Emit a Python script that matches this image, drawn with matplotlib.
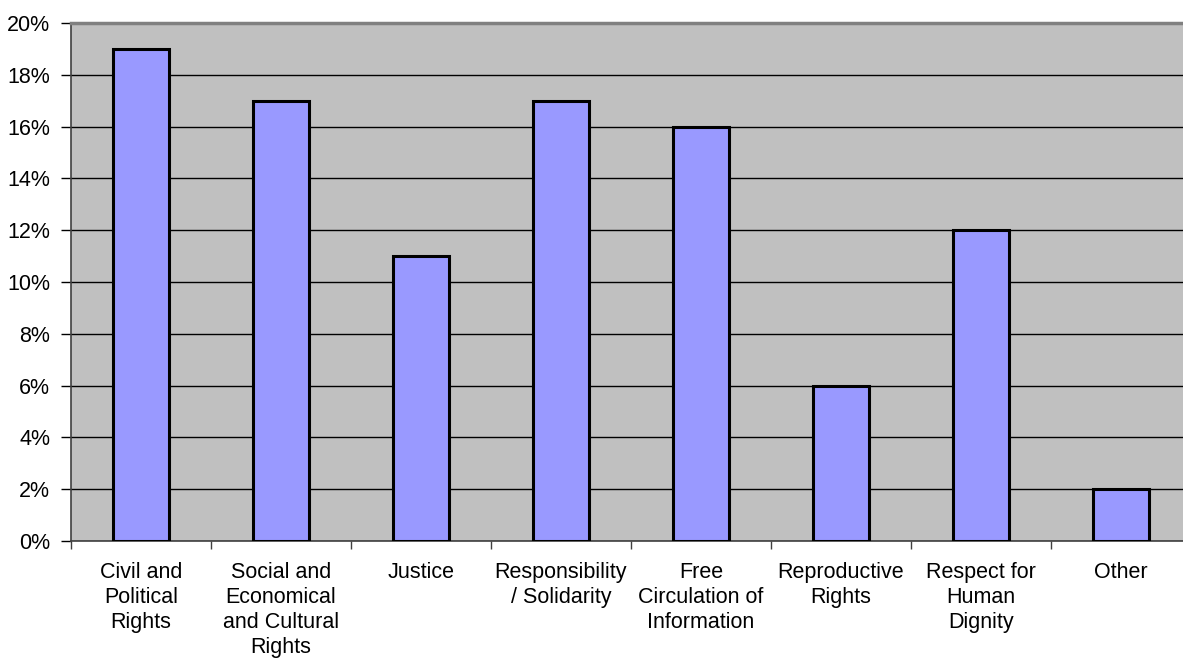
import matplotlib
matplotlib.use("Agg")
import matplotlib.pyplot as plt
import numpy as np
from matplotlib.ticker import FixedLocator, PercentFormatter

categories = ["Civil and\nPolitical\nRights",
              "Social and\nEconomical\nand Cultural\nRights",
              "Justice",
              "Responsibility\n/ Solidarity",
              "Free\nCirculation of\nInformation",
              "Reproductive\nRights",
              "Respect for\nHuman\nDignity",
              "Other"]
values = [19, 17, 11, 17, 16, 6, 12, 2]
yticks = [0, 2, 4, 6, 8, 10, 12, 14, 16, 18, 20]

plt.rcParams['font.family'] = ['Liberation Sans', 'DejaVu Sans']

fig = plt.figure(figsize=(11.83, 6.63), dpi=100)
W, H = 1183, 663
left, right, top, bottom = 71, 1191, 23, 541
ax = fig.add_axes([left / W, 1 - bottom / H, (right - left) / W, (bottom - top) / H])
ax.set_facecolor('#C0C0C0')

x = np.arange(len(categories))
ax.bar(x, values, width=0.4, color='#9999FF', edgecolor='black', linewidth=2.2, zorder=3)
ax.set_xlim(-0.5, len(categories) - 0.5)
ax.set_ylim(0, 20)
ax.set_yticks(yticks)
ax.yaxis.set_major_formatter(PercentFormatter(decimals=0))
ax.yaxis.grid(True, color='black', linewidth=1, zorder=1)
ax.set_axisbelow(True)

ax.set_xticks(x)
ax.set_xticklabels(categories, linespacing=1.25)
ax.xaxis.set_minor_locator(FixedLocator(np.arange(-0.5, len(categories), 1)))
ax.tick_params(axis='x', which='major', length=0, pad=15, labelsize=15.5)
ax.tick_params(axis='x', which='minor', length=6, width=1, color='#404040', direction='out')
ax.tick_params(axis='y', which='major', length=7, width=1, color='black', direction='out', labelsize=15.5, pad=8)

for s in ['left', 'bottom']:
    ax.spines[s].set_color('#404040')
    ax.spines[s].set_linewidth(1.2)
ax.spines['top'].set_color('#808080')
ax.spines['top'].set_linewidth(2.5)
ax.spines['right'].set_color('#808080')

fig.savefig('out.png', dpi=100)
